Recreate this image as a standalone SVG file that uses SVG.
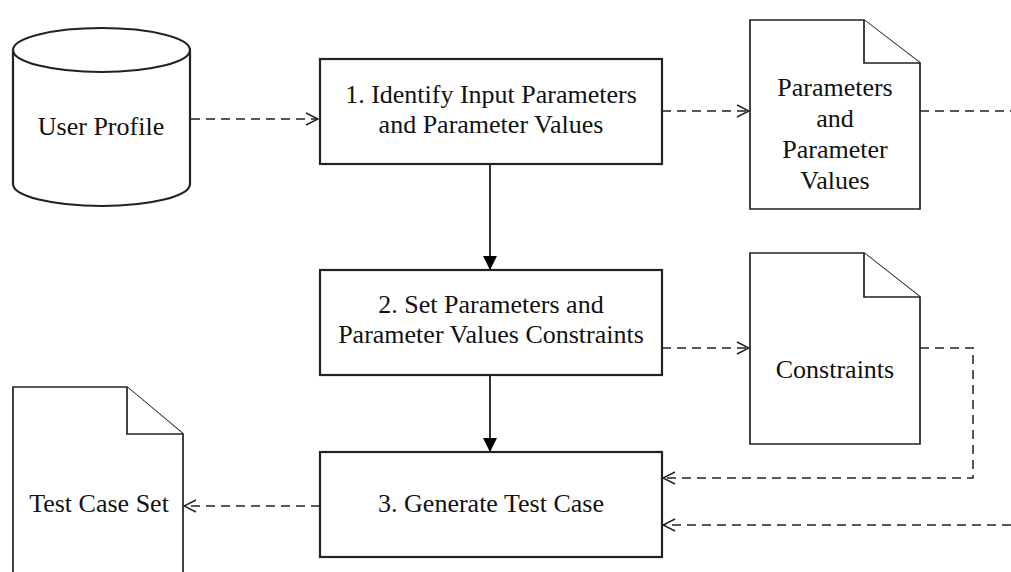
<svg xmlns="http://www.w3.org/2000/svg" width="1011" height="572" viewBox="0 0 1011 572">
  <style>
    .lbl { font-family: 'Liberation Serif', 'Times New Roman', Tinos, 'Nimbus Roman', 'DejaVu Serif', serif; font-size: 26px; fill: #111; text-anchor: middle; }
    .proc { fill: #fff; stroke: #222; stroke-width: 2.2; }
    .doc { fill: #fff; stroke: #222; stroke-width: 1.7; }
    .flow { fill: none; stroke: #000; stroke-width: 1.6; }
    .dep { fill: none; stroke: #222; stroke-width: 1.5; stroke-dasharray: 9 6; }
  </style>
  <defs>
    <marker id="solid" viewBox="0 0 14 14" refX="14" refY="7" markerWidth="14" markerHeight="14" markerUnits="userSpaceOnUse" orient="auto">
      <path d="M0,0 L14,7 L0,14 Z" fill="#000"/>
    </marker>
    <marker id="open" viewBox="0 0 14 14" refX="13" refY="7" markerWidth="14" markerHeight="14" markerUnits="userSpaceOnUse" orient="auto">
      <path d="M1,1 L13,7 L1,13" fill="none" stroke="#222" stroke-width="1.5"/>
    </marker>
  </defs>

  <!-- connectors -->
  <g id="connectors">
    <path class="dep" d="M191,119 H318" marker-end="url(#open)"/>
    <path class="dep" d="M662,111 H749" marker-end="url(#open)"/>
    <path class="dep" d="M920,111 H1011"/>
    <path class="flow" d="M490,164 V270" marker-end="url(#solid)"/>
    <path class="dep" d="M662,348 H749" marker-end="url(#open)"/>
    <path class="dep" d="M920,348 H973 V478 H663" marker-end="url(#open)"/>
    <path class="flow" d="M490,375 V452" marker-end="url(#solid)"/>
    <path class="dep" d="M1011,525 H663" marker-end="url(#open)"/>
    <path class="dep" d="M320,506 H184" marker-end="url(#open)"/>
  </g>

  <!-- data store -->
  <g id="user-profile">
    <path class="proc" d="M13,50 V184 A88.5,22 0 0 0 190,184 V50 A88.5,22 0 0 0 13,50 Z"/>
    <path class="proc" d="M13,50 A88.5,22 0 0 0 190,50" fill="none"/>
    <text class="lbl" x="101" y="135" font-family="Liberation Serif, serif">User Profile</text>
  </g>

  <!-- process steps -->
  <g id="step1">
    <rect class="proc" x="320" y="59" width="342" height="105"/>
    <text class="lbl" x="491" y="103">1. Identify Input Parameters</text>
    <text class="lbl" x="491" y="133">and Parameter Values</text>
  </g>
  <g id="step2">
    <rect class="proc" x="320" y="270" width="342" height="105"/>
    <text class="lbl" x="491" y="313">2. Set Parameters and</text>
    <text class="lbl" x="491" y="343">Parameter Values Constraints</text>
  </g>
  <g id="step3">
    <rect class="proc" x="320" y="452" width="342" height="105"/>
    <text class="lbl" x="491" y="512">3. Generate Test Case</text>
  </g>

  <!-- documents -->
  <g id="doc-parameters">
    <path class="doc" d="M750,20 H864 L920,63 V209 H750 Z"/>
    <path class="doc" d="M864,20 V63 H920" fill="none"/>
    <text class="lbl" x="835" y="96">Parameters</text>
    <text class="lbl" x="835" y="127">and</text>
    <text class="lbl" x="835" y="158">Parameter</text>
    <text class="lbl" x="835" y="189">Values</text>
  </g>
  <g id="doc-constraints">
    <path class="doc" d="M750,253 H864 L920,297 V444 H750 Z"/>
    <path class="doc" d="M864,253 V297 H920" fill="none"/>
    <text class="lbl" x="835" y="378">Constraints</text>
  </g>
  <g id="doc-test-case-set">
    <path class="doc" d="M13,387 H127 L183,434 V580 H13 Z"/>
    <path class="doc" d="M127,387 V434 H183" fill="none"/>
    <text class="lbl" x="99" y="512">Test Case Set</text>
  </g>
</svg>
